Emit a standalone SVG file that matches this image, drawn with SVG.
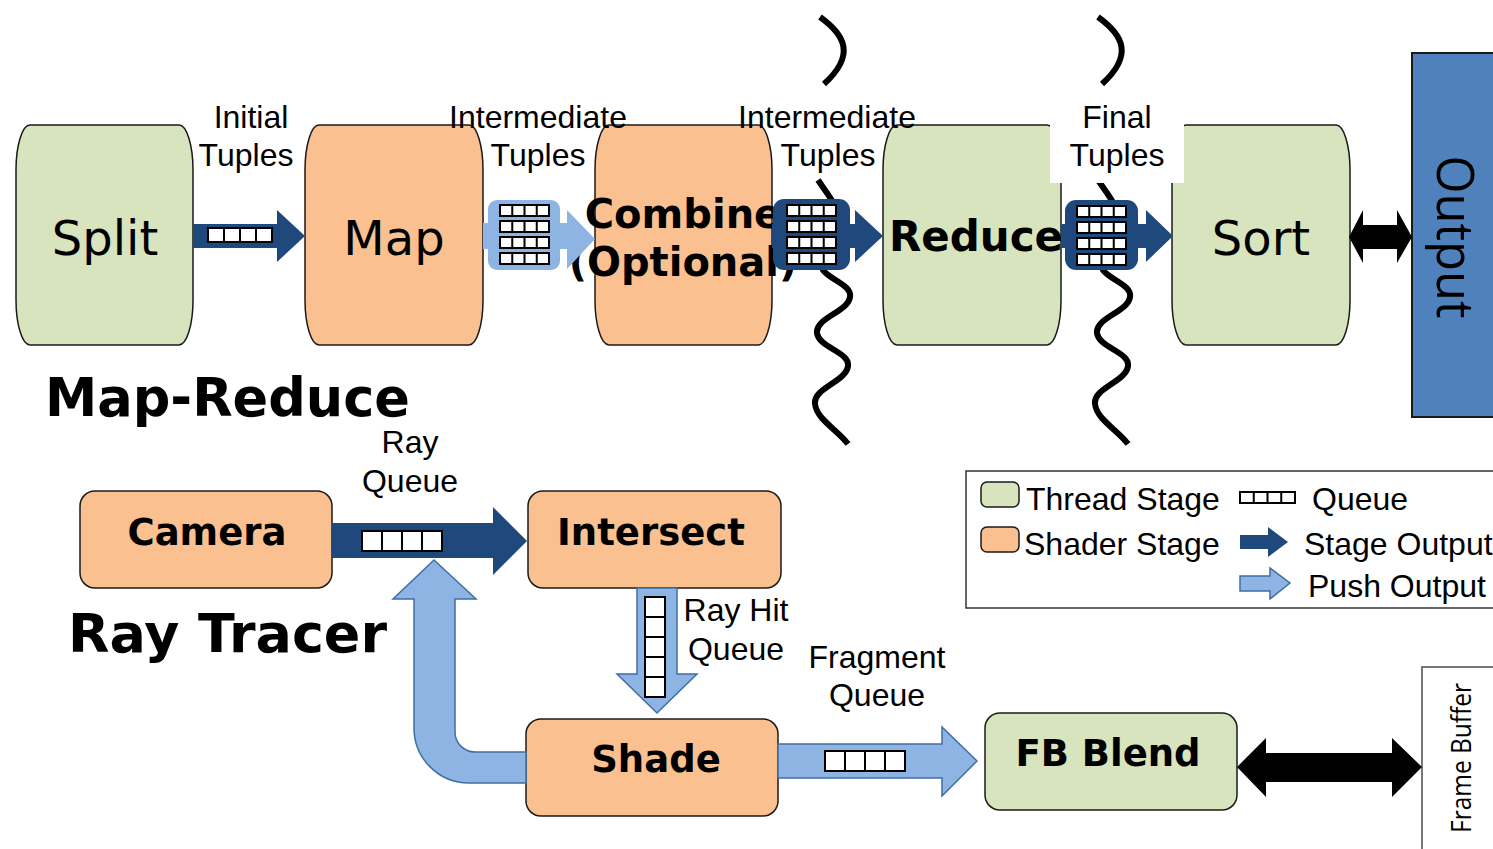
<svg xmlns="http://www.w3.org/2000/svg" xmlns:xlink="http://www.w3.org/1999/xlink" width="1493" height="849" viewBox="0 0 1493 849">
  <style>
    .thread { fill: #D7E4BD; stroke: #1a1a1a; stroke-width: 1.5; }
    .shader { fill: #FAC090; stroke: #1a1a1a; stroke-width: 1.5; }
    .big { font-family: "DejaVu Sans", Verdana, sans-serif; font-size: 48px; fill: #000; text-anchor: middle; }
    .bigb { font-family: "DejaVu Sans", Verdana, sans-serif; font-weight: bold; font-size: 40px; fill: #000; text-anchor: middle; }
    .nodeb { font-family: "DejaVu Sans", Verdana, sans-serif; font-weight: bold; font-size: 37px; fill: #000; text-anchor: middle; }
    .title { font-family: "DejaVu Sans", Verdana, sans-serif; font-weight: bold; font-size: 53px; fill: #000; }
    .lbl { font-family: "Liberation Sans", Arial, sans-serif; font-size: 32px; fill: #000; text-anchor: middle; }
    .leg { font-family: "Liberation Sans", Arial, sans-serif; font-size: 32px; fill: #000; }
    .side { font-family: "Open Sans", "Liberation Sans", sans-serif; fill: #000; text-anchor: middle; }
    .stage { fill: #1F497D; }
    .push { fill: #8DB4E2; }
    .pushline { fill: #8DB4E2; stroke: #3F6EA6; stroke-width: 1.5; }
    .wave { fill: none; stroke: #000; stroke-width: 6; }
  </style>
  <defs>
    <!-- horizontal queue of four slots -->
    <symbol id="q4" viewBox="0 0 4 1" preserveAspectRatio="none" overflow="visible">
      <rect x="0" y="0" width="4" height="1" fill="#fff" stroke="#000" stroke-width="2" vector-effect="non-scaling-stroke"/>
      <path d="M1 0V1M2 0V1M3 0V1" stroke="#000" stroke-width="2" vector-effect="non-scaling-stroke"/>
    </symbol>
    <!-- vertical queue of five slots -->
    <symbol id="q5v" viewBox="0 0 1 5" preserveAspectRatio="none" overflow="visible">
      <rect x="0" y="0" width="1" height="5" fill="#fff" stroke="#000" stroke-width="2" vector-effect="non-scaling-stroke"/>
      <path d="M0 1H1M0 2H1M0 3H1M0 4H1" stroke="#000" stroke-width="2" vector-effect="non-scaling-stroke"/>
    </symbol>
    <!-- 4x4 grid of slots used inside the buffered queue boxes -->
    <g id="grid">
      <use xlink:href="#q4" x="0" y="0" width="49" height="11"/>
      <use xlink:href="#q4" x="0" y="16" width="49" height="11"/>
      <use xlink:href="#q4" x="0" y="32" width="49" height="11"/>
      <use xlink:href="#q4" x="0" y="48" width="49" height="11"/>
    </g>
  </defs>

  <rect width="1493" height="849" fill="#fff"/>

  <!-- Map-Reduce pipeline stages -->
  <g id="split">
    <rect class="thread" x="16" y="125" width="177" height="220" rx="14" ry="45"/>
    <text class="big" x="105" y="255">Split</text>
  </g>
  <g id="map">
    <rect class="shader" x="305" y="125" width="178" height="220" rx="14" ry="45"/>
    <text class="big" x="394" y="255">Map</text>
  </g>
  <g id="combine">
    <rect class="shader" x="595" y="125" width="177" height="220" rx="14" ry="45"/>
    <text class="bigb" x="683" y="228">Combine</text>
    <text class="bigb" x="683" y="276">(Optional)</text>
  </g>
  <g id="reduce">
    <rect class="thread" x="883" y="125" width="178" height="220" rx="14" ry="45"/>
    <text class="bigb" x="976" y="251" style="font-size:42px">Reduce</text>
  </g>
  <g id="sort">
    <rect class="thread" x="1172" y="125" width="178" height="220" rx="14" ry="45"/>
    <text class="big" x="1261" y="255">Sort</text>
  </g>
  <g id="output">
    <rect x="1412" y="53" width="100" height="364" fill="#4F81BD" stroke="#1a1a1a" stroke-width="2"/>
    <text class="side" style="font-size:52px" transform="translate(1437,237) rotate(90)" textLength="163" lengthAdjust="spacingAndGlyphs">Output</text>
  </g>

  <!-- thread boundaries -->
  <g id="boundaries">
    <path class="wave" d="M820 17C845 35 856 55 824 84"/>
    <path class="wave" d="M1098 17C1123 35 1134 55 1102 84"/>
    <path class="wave" d="M818 180C828 195 842 210 840 230C838 250 815 258 823 270C830 280 852 285 850 297C848 312 815 318 817 333C819 348 850 352 848 366C846 382 813 388 815 404C817 420 838 430 848 444"/>
    <path class="wave" d="M1098 180C1108 195 1122 210 1120 230C1118 250 1095 258 1103 270C1110 280 1132 285 1130 297C1128 312 1095 318 1097 333C1099 348 1130 352 1128 366C1126 382 1093 388 1095 404C1097 420 1118 430 1128 444"/>
  </g>

  <!-- edge labels -->
  <g id="labels">
    <text class="lbl" x="251" y="128">Initial</text>
    <text class="lbl" x="246" y="166">Tuples</text>
    <text class="lbl" x="538" y="128">Intermediate</text>
    <text class="lbl" x="538" y="166">Tuples</text>
    <text class="lbl" x="827" y="128">Intermediate</text>
    <text class="lbl" x="828" y="166">Tuples</text>
    <rect x="1050" y="90" width="134" height="93" fill="#fff"/>
    <text class="lbl" x="1117" y="128">Final</text>
    <text class="lbl" x="1117" y="166">Tuples</text>
  </g>

  <text class="title" x="45" y="416" textLength="365" lengthAdjust="spacingAndGlyphs">Map-Reduce</text>
  <text class="title" x="68" y="652" textLength="319" lengthAdjust="spacingAndGlyphs">Ray Tracer</text>

  <!-- Ray tracer stages -->
  <g id="camera">
    <rect class="shader" x="80" y="491" width="252" height="97" rx="15"/>
    <text class="nodeb" x="207" y="545">Camera</text>
  </g>
  <g id="intersect">
    <rect class="shader" x="528" y="491" width="253" height="97" rx="15"/>
    <text class="nodeb" x="651" y="545">Intersect</text>
  </g>
  <g id="shade">
    <rect class="shader" x="526" y="719" width="252" height="97" rx="15"/>
    <text class="nodeb" x="656" y="772">Shade</text>
  </g>
  <g id="fb-blend">
    <rect class="thread" x="985" y="713" width="252" height="97" rx="15"/>
    <text class="nodeb" x="1108" y="766">FB Blend</text>
  </g>
  <g id="frame-buffer">
    <rect x="1422" y="667" width="100" height="200" fill="#fff" stroke="#777" stroke-width="2"/>
    <text class="side" style="font-size:27px" transform="translate(1471,758) rotate(-90)" textLength="150" lengthAdjust="spacingAndGlyphs">Frame Buffer</text>
  </g>

  <!-- connectors -->
  <g id="connectors">
    <!-- Split -> Map -->
    <polygon class="stage" points="193,224 277,224 277,210 305,236 277,262 277,248 193,248"/>
    <use xlink:href="#q4" x="208" y="228" width="64" height="14"/>

    <!-- Map -> Combine (push, buffered) -->
    <polygon class="push" points="483,223 567,223 567,210 595,239 567,269 567,249 483,249"/>
    <rect class="push" x="488" y="200" width="72" height="70" rx="9"/>
    <use xlink:href="#grid" x="500" y="205"/>

    <!-- Combine -> Reduce -->
    <polygon class="stage" points="772,224 855,224 855,210 883,236 855,262 855,248 772,248"/>
    <rect class="stage" x="773" y="199" width="77" height="71" rx="11"/>
    <use xlink:href="#grid" x="787" y="205"/>

    <!-- Reduce -> Sort -->
    <polygon class="stage" points="1061,224 1146,224 1146,210 1173,236 1146,262 1146,248 1061,248"/>
    <rect class="stage" x="1065" y="200" width="73" height="70" rx="11"/>
    <use xlink:href="#grid" x="1077" y="206"/>

    <!-- Sort <-> Output -->
    <polygon fill="#000" points="1349,237 1363,210 1363,225 1397,225 1397,210 1412,237 1397,263 1397,249 1363,249 1363,263"/>

    <!-- Shade -> Camera/Intersect feedback (push) -->
    <path class="pushline" d="M526 752H475A20 20 0 0 1 455 732V599H476L434 560L393 599H414V728A55 55 0 0 0 469 783H526Z"/>

    <!-- Camera -> Intersect -->
    <polygon class="stage" points="332,523 493,523 493,507 527,541 493,575 493,558 332,558"/>
    <use xlink:href="#q4" x="362" y="531" width="80" height="20"/>

    <!-- Intersect -> Shade -->
    <polygon class="pushline" points="637,588 677,588 677,674 697,674 657,713 617,674 637,674"/>
    <use xlink:href="#q5v" x="645" y="597" width="20" height="100"/>

    <!-- Shade -> FB Blend -->
    <polygon class="pushline" points="778,744 942,744 942,727 977,761 942,796 942,778 778,778"/>
    <use xlink:href="#q4" x="825" y="751" width="80" height="20"/>

    <!-- FB Blend <-> Frame Buffer -->
    <polygon fill="#000" points="1237,767 1266,738 1266,753 1392,753 1392,738 1422,767 1392,797 1392,782 1266,782 1266,797"/>
  </g>

  <g id="ray-labels">
    <text class="lbl" x="410" y="453">Ray</text>
    <text class="lbl" x="410" y="492">Queue</text>
    <text class="lbl" x="736" y="621">Ray Hit</text>
    <text class="lbl" x="736" y="660">Queue</text>
    <text class="lbl" x="877" y="668">Fragment</text>
    <text class="lbl" x="877" y="706">Queue</text>
  </g>

  <!-- legend -->
  <g id="legend">
    <rect x="966" y="471" width="540" height="137" fill="#fff" stroke="#333" stroke-width="1.5"/>
    <rect class="thread" x="981" y="482" width="38" height="25" rx="6"/>
    <text class="leg" x="1026" y="510">Thread Stage</text>
    <rect class="shader" x="981" y="527" width="38" height="25" rx="6"/>
    <text class="leg" x="1024" y="555">Shader Stage</text>
    <use xlink:href="#q4" x="1240" y="492" width="55" height="11"/>
    <text class="leg" x="1312" y="510">Queue</text>
    <polygon class="stage" points="1240,535 1268,535 1268,527 1288,542 1268,557 1268,549 1240,549"/>
    <text class="leg" x="1304" y="555">Stage Output</text>
    <polygon class="pushline" points="1240,576 1270,576 1270,568 1290,583 1270,599 1270,591 1240,591"/>
    <text class="leg" x="1308" y="597">Push Output</text>
  </g>
</svg>
